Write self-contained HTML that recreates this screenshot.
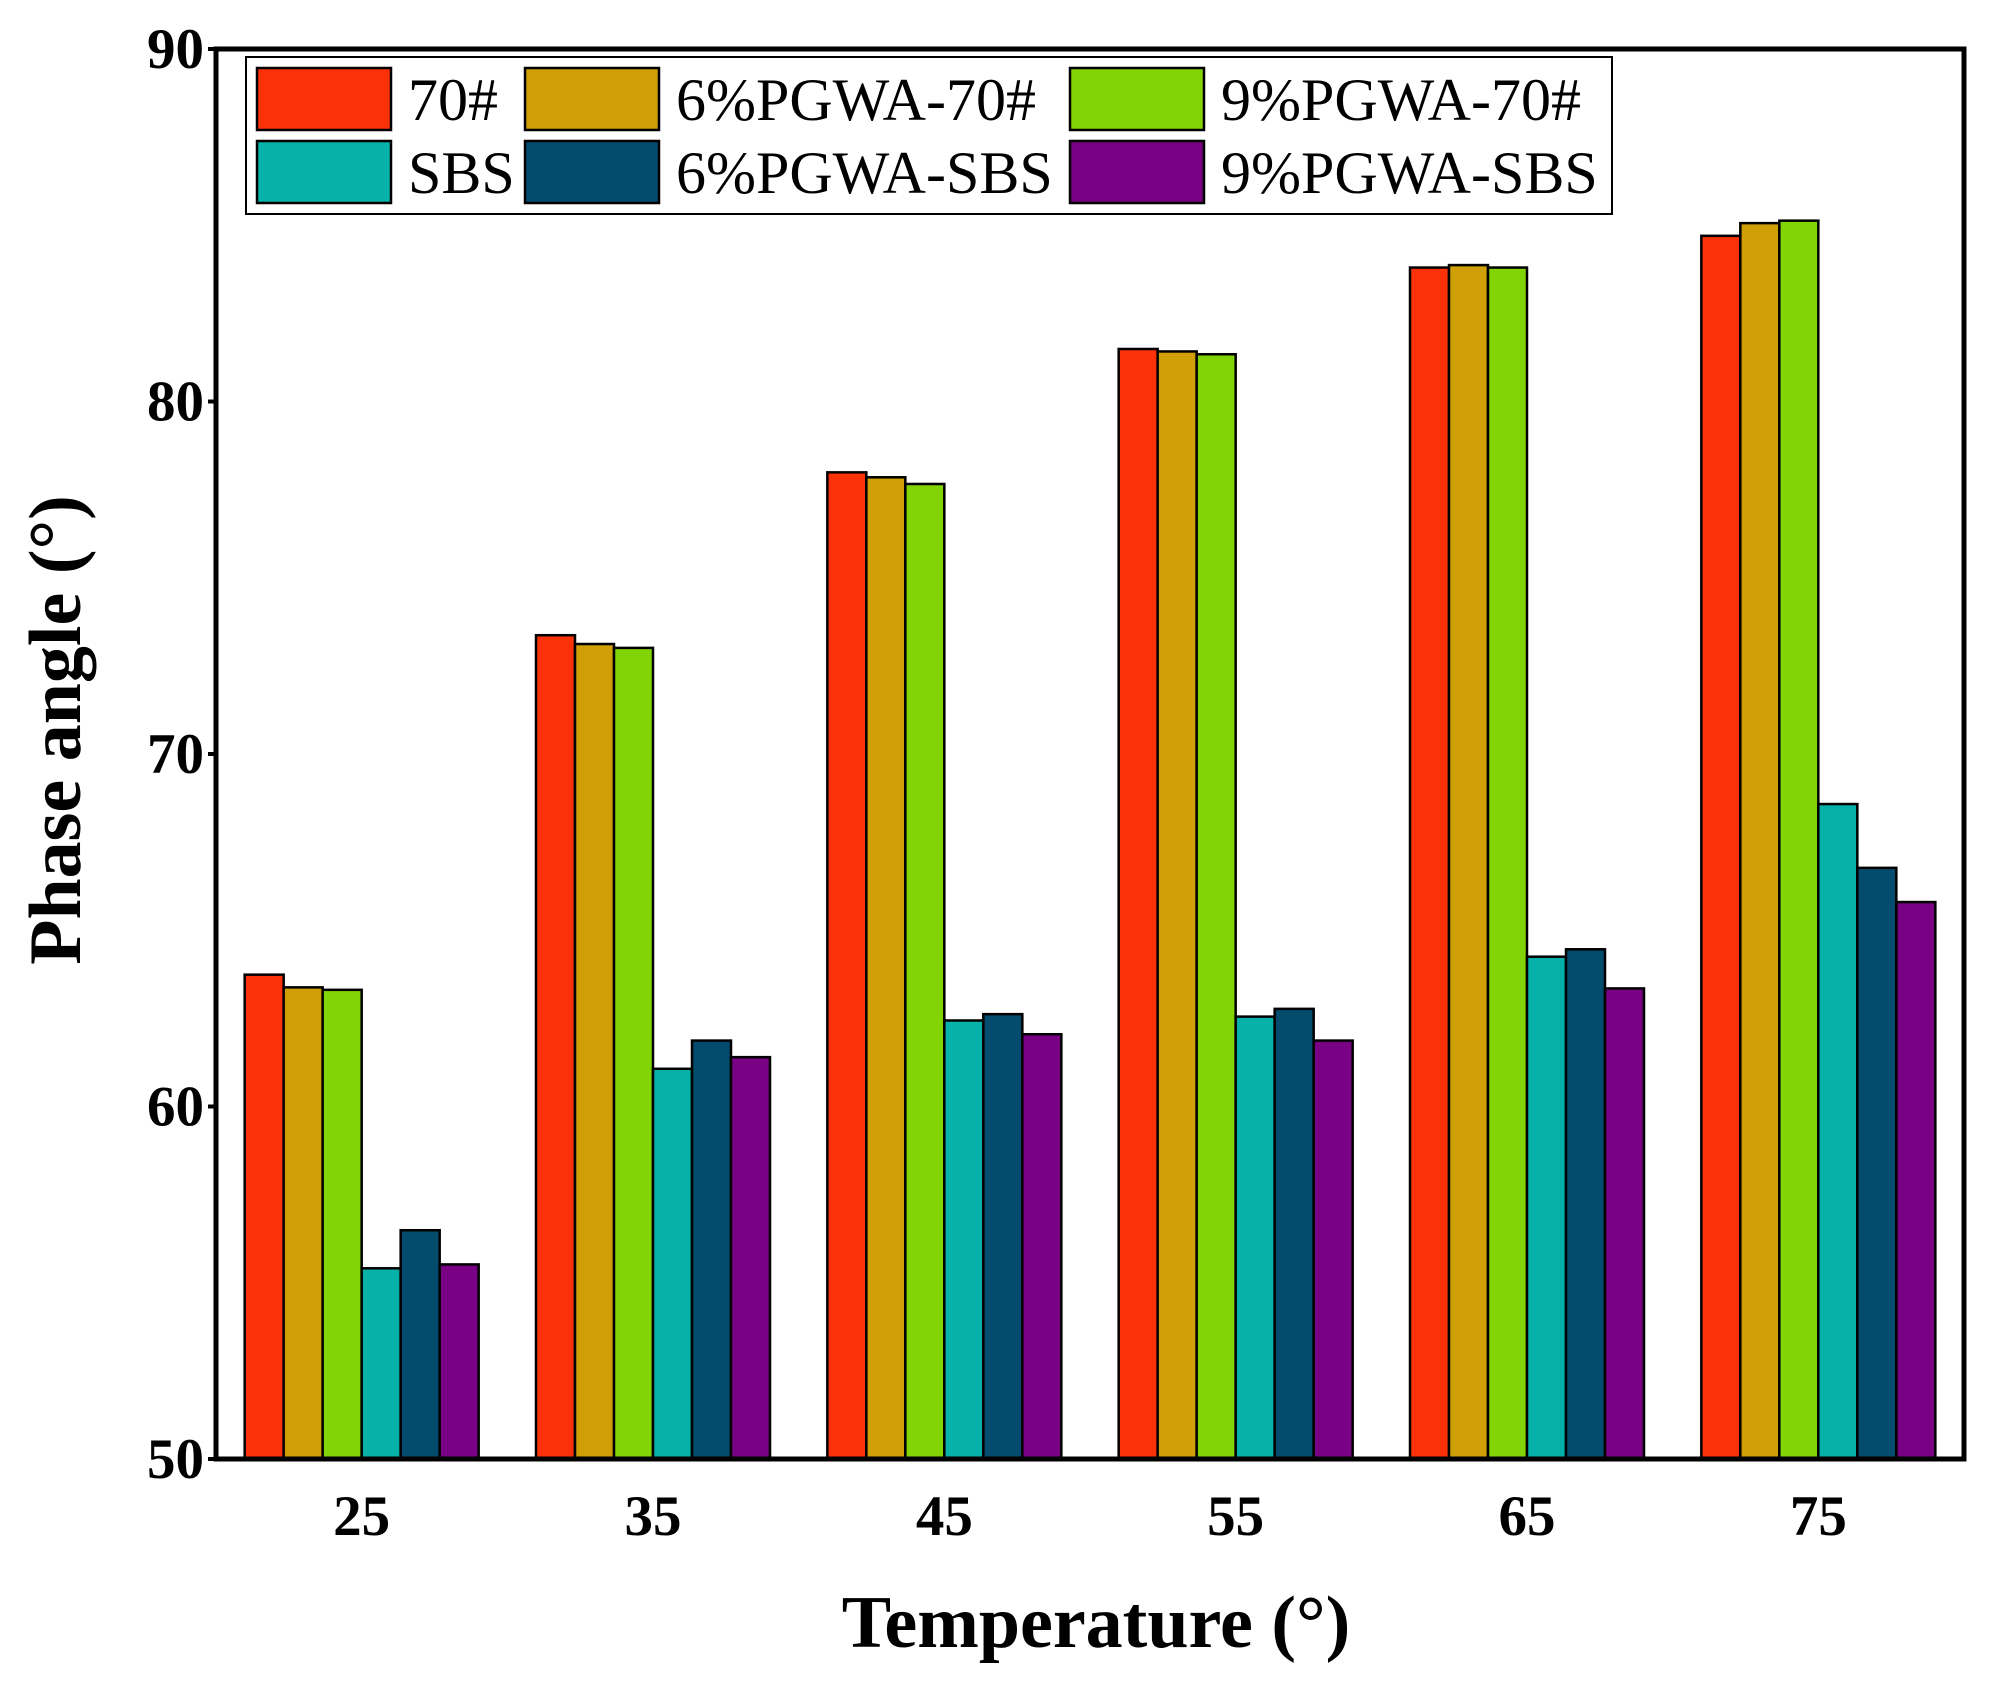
<!DOCTYPE html>
<html><head><meta charset="utf-8"><style>body{margin:0;background:#fff}svg{display:block}text{font-family:"Liberation Serif",serif}</style></head>
<body>
<svg id="chart" width="1992" height="1688" viewBox="0 0 1992 1688" xmlns="http://www.w3.org/2000/svg"></svg>
<script>
const categories = ["25","35","45","55","65","75"];
const seriesNames = ["70#","6%PGWA-70#","9%PGWA-70#","SBS","6%PGWA-SBS","9%PGWA-SBS"];
const s70 = [63.74,73.37,77.99,81.49,83.80,84.70];
const s6p70 = [63.38,73.12,77.85,81.42,83.87,85.06];
const s9p70 = [63.31,73.01,77.66,81.34,83.80,85.13];
const sSBS = [55.41,61.07,62.44,62.55,64.25,68.58];
const s6pSBS = [56.49,61.87,62.62,62.77,64.46,66.77];
const s9pSBS = [55.52,61.40,62.05,61.87,63.35,65.80];
const yTicks = [50,60,70,80,90];

const series=[s70,s6p70,s9p70,sSBS,s6pSBS,s9pSBS];
const colors=["#fb3209","#d09e05","#83d405","#05b1a8","#034c6e","#780283"];
const NS="http://www.w3.org/2000/svg";
const svg=document.getElementById('chart');
const L=216,R=1964,T=49,B=1459,yMin=50,yMax=90;
const y=v=>B-(v-yMin)/(yMax-yMin)*(B-T);
const groupW=(R-L)/categories.length;
const barW=39;
const x=(i,j)=>L+groupW*i+(groupW-barW*6)/2+j*barW;
function mk(t,a,txt){const e=document.createElementNS(NS,t);for(const k in a)e.setAttribute(k,a[k]);if(txt!=null)e.textContent=txt;svg.appendChild(e);return e;}
series.forEach((s,j)=>s.forEach((v,i)=>{
  const r=mk('rect',{x:x(i,j),y:y(v),width:barW,height:B-y(v),fill:colors[j],stroke:'#000','stroke-width':2.5});
  
  
}));
const fr=mk('rect',{x:L,y:T,width:R-L,height:B-T,fill:'none',stroke:'#000','stroke-width':5});


yTicks.forEach(v=>{
  const tk=mk('line',{x1:L-8,x2:L,y1:y(v),y2:y(v),stroke:'#000','stroke-width':4});
  
  
  const t=mk('text',{x:204,y:y(v)+19,'text-anchor':'end','font-size':57,'font-weight':'bold'},v);
  
  
});
categories.forEach((c,i)=>{
  const t=mk('text',{x:L+groupW*(i+0.5),y:1535,'text-anchor':'middle','font-size':57,'font-weight':'bold'},c);
  
  
});
const xt=mk('text',{x:1096,y:1647,'text-anchor':'middle','font-size':74,'font-weight':'bold'},'Temperature (°)');


const yt=mk('text',{x:0,y:0,'text-anchor':'middle','font-size':74,'font-weight':'bold',transform:'translate(80,730) rotate(-90)'},'Phase angle (°)');


const lg=mk('rect',{x:246,y:57,width:1366,height:157,fill:'#fff',stroke:'#000','stroke-width':2});


const colX=[257,525,1070],rowY=[68,141];
seriesNames.forEach((n,j)=>{
  const c=j%3,r=Math.floor(j/3);
  const p=mk('rect',{x:colX[c],y:rowY[r],width:134,height:62,fill:colors[j],stroke:'#000','stroke-width':2.5});
  
  
  const t=mk('text',{x:colX[c]+151,y:rowY[r]+52,'font-size':60},n);
  
  
});
</script>
</body></html>
